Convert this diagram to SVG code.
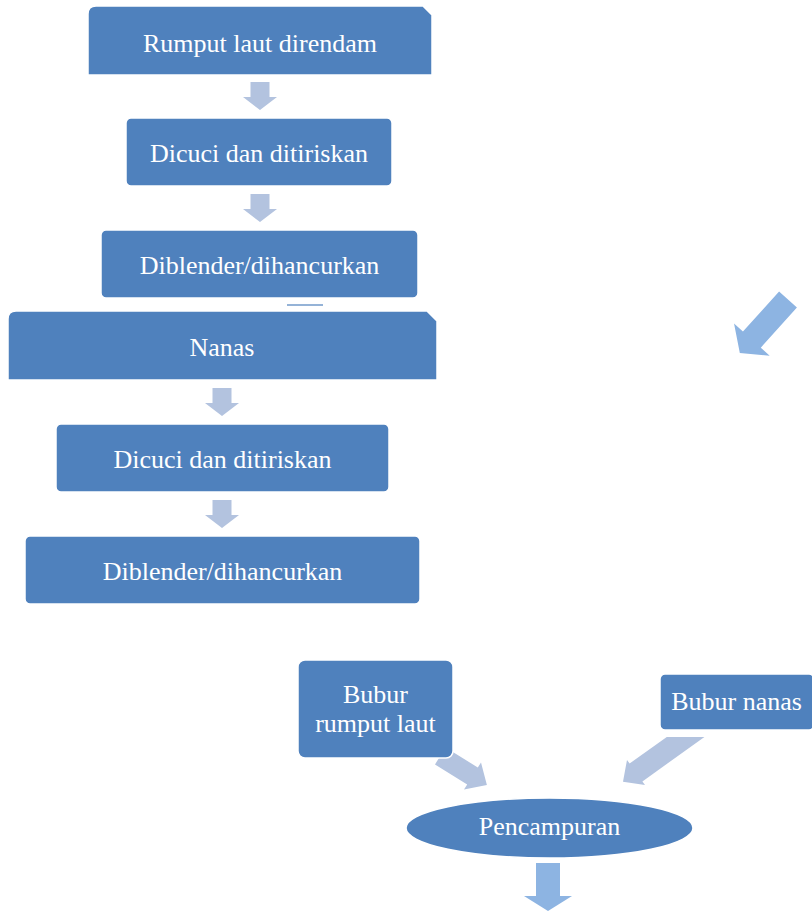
<svg xmlns="http://www.w3.org/2000/svg" width="812" height="911" viewBox="0 0 812 911">
<style>
.box{fill:#4F81BD;stroke:#FFFFFF;stroke-width:1.5}
.t{font-family:"Liberation Serif","Times New Roman",serif;font-size:26px;fill:#FFFFFF;text-anchor:middle}
.ar{fill:#B3C3DF}
.ar2{fill:#8DB4E2}
</style>
<defs>
<path id="dn" d="M-9.5,0 H9.5 V15 H17 L0,28 L-17,15 H-9.5 Z"/>
</defs>
<rect width="812" height="911" fill="#FFFFFF"/>
<g id="connectors">
<use href="#dn" class="ar" x="260" y="82"/>
<use href="#dn" class="ar" x="260" y="194"/>
<use href="#dn" class="ar" x="222" y="388"/>
<use href="#dn" class="ar" x="222" y="500"/>
<line x1="287" y1="305" x2="323" y2="305" stroke="#95B3D7" stroke-width="2"/>
<polygon class="ar2" transform="translate(788,299.5) rotate(42)" points="-12,0 12,0 12,54 24,54 0,72 -24,54 -12,54"/>
<polygon class="ar" points="435,764.4 445.6,747.4 477.8,767.5 481,762.4 486.9,785 464,789.6 467.2,784.5"/>
<polygon class="ar" points="666.8,737 704.4,737 642.4,781.4 645,785.1 623,781.8 627,759.9 629.6,763.6"/>
<polygon class="ar2" points="536,863 560,863 560,896 572,896 548,911 524,896 536,896"/>
</g>
<g id="n1">
<path class="box" d="M88,75 V14 Q88,6 96,6 H423 L432,15 V75 Z"/>
<text class="t" x="260" y="52">Rumput laut direndam</text>
</g>
<g id="n2">
<rect class="box" x="126" y="118" width="266" height="68" rx="5"/>
<text class="t" x="259" y="162">Dicuci dan ditiriskan</text>
</g>
<g id="n3">
<rect class="box" x="101" y="230" width="317" height="68" rx="5"/>
<text class="t" x="259.5" y="274">Diblender/dihancurkan</text>
</g>
<g id="n4">
<path class="box" d="M8,380 V319 Q8,311 16,311 H427 L437,321 V380 Z"/>
<text class="t" x="222" y="356">Nanas</text>
</g>
<g id="n5">
<rect class="box" x="56" y="424" width="333" height="68" rx="5"/>
<text class="t" x="222.5" y="468">Dicuci dan ditiriskan</text>
</g>
<g id="n6">
<rect class="box" x="25" y="536" width="395" height="68" rx="5"/>
<text class="t" x="222.5" y="580">Diblender/dihancurkan</text>
</g>
<g id="n7">
<rect class="box" x="298" y="660" width="155" height="98" rx="7" stroke-width="3"/>
<text class="t" x="375.5" y="703">Bubur</text>
<text class="t" x="375.5" y="732">rumput laut</text>
</g>
<g id="n8">
<rect class="box" x="660" y="674" width="154" height="56" rx="5" stroke-width="3"/>
<text class="t" x="736.5" y="710">Bubur nanas</text>
</g>
<g id="n9">
<ellipse class="box" cx="549.5" cy="828" rx="143.5" ry="30"/>
<text class="t" x="549.5" y="835">Pencampuran</text>
</g>
</svg>
